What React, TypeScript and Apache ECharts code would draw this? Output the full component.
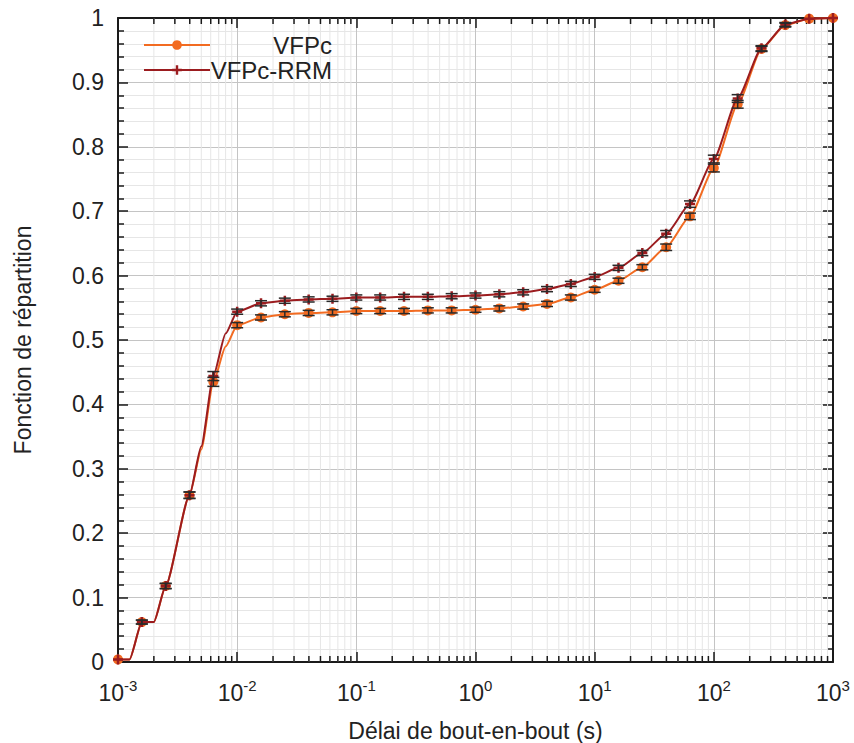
import React, { useEffect, useRef } from "react";
import * as echarts from "echarts";

// ---- Data ----
const X_MARK = [
  0.001, 0.001585, 0.002512, 0.003981, 0.00631,
  0.01, 0.01585, 0.02512, 0.03981, 0.0631,
  0.1, 0.1585, 0.2512, 0.3981, 0.631,
  1, 1.585, 2.512, 3.981, 6.31,
  10, 15.85, 25.12, 39.81, 63.1,
  100, 158.5, 251.2, 398.1, 631, 1000,
];
const VFPC = [
  0.004, 0.062, 0.118, 0.259, 0.435,
  0.523, 0.535, 0.54, 0.542, 0.543,
  0.545, 0.545, 0.545, 0.546, 0.546,
  0.547, 0.549, 0.552, 0.556, 0.566,
  0.578, 0.592, 0.613, 0.644, 0.692,
  0.767, 0.866, 0.952, 0.989, 0.999, 1.0,
];
const RRM = [
  0.004, 0.062, 0.118, 0.259, 0.444,
  0.544, 0.557, 0.561, 0.563, 0.564,
  0.566, 0.566, 0.567, 0.567, 0.568,
  0.569, 0.571, 0.574, 0.579, 0.587,
  0.598, 0.612, 0.635, 0.665, 0.711,
  0.781, 0.875, 0.953, 0.99, 0.999, 1.0,
];
const ERR_VFPC = [
  0, 0.003, 0.004, 0.005, 0.007,
  0.004, 0.004, 0.004, 0.004, 0.004,
  0.004, 0.004, 0.004, 0.004, 0.004,
  0.004, 0.004, 0.004, 0.004, 0.004,
  0.004, 0.004, 0.004, 0.005, 0.005,
  0.006, 0.006, 0.004, 0.003, 0, 0,
];
const ERR_RRM = [
  0, 0.003, 0.004, 0.005, 0.007,
  0.004, 0.004, 0.004, 0.004, 0.004,
  0.004, 0.004, 0.004, 0.004, 0.004,
  0.004, 0.004, 0.004, 0.004, 0.004,
  0.004, 0.004, 0.004, 0.005, 0.005,
  0.006, 0.006, 0.004, 0.003, 0, 0,
];
// extra knots of the empirical curves (no markers)
const X_KNOT = [0.00125, 0.002, 0.005, 0.008];
const VFPC_KNOT = [0.004, 0.062, 0.33, 0.49];
const RRM_KNOT = [0.004, 0.062, 0.335, 0.51];

const DECADES = [-3, -2, -1, 0, 1, 2];
const MINOR_MULT = [2, 3, 4, 5, 6, 7, 8, 9];

const FONT = "Liberation Sans, Arial, sans-serif";
const ORANGE = "#F26B21";
const DARKRED = "#9B1C1F";
const TEXT = "#222";
const PLUS = "path://M3,0h2v3h3v2h-3v3h-2v-3h-3v-2h3z";

function buildLine(xm: number[], ym: number[], xk: number[], yk: number[]) {
  const pts: any[] = [];
  xm.forEach((x, i) => pts.push({ value: [x, ym[i]] }));
  xk.forEach((x, i) => pts.push({ value: [x, yk[i]], symbol: "none" }));
  pts.sort((a, b) => a.value[0] - b.value[0]);
  return pts;
}

export default function App() {
  const ref = useRef<HTMLDivElement>(null);
  useEffect(() => {
    if (!ref.current) return;
    const chart = echarts.init(ref.current, null, { renderer: "svg" });

    const minorX: number[][] = [];
    DECADES.forEach((d) => MINOR_MULT.forEach((m) => minorX.push([m * Math.pow(10, d), 0])));

    const errData: number[][] = [];
    X_MARK.forEach((x, i) => {
      errData.push([x, VFPC[i], ERR_VFPC[i]]);
      errData.push([x, RRM[i], ERR_RRM[i]]);
    });

    const axisLineStyle = { color: "#1a1a1a", width: 2 };
    const tick = { show: true, inside: true, length: 10, lineStyle: { color: "#1a1a1a", width: 1.5 } };

    chart.setOption({
      animation: false,
      grid: { left: 118, right: 21, top: 18, bottom: 81, containLabel: false, outerBoundsMode: "none" },
      legend: {
        data: ["VFPc", "VFPc-RRM"],
        orient: "vertical",
        left: 138,
        top: 28,
        itemWidth: 66,
        itemHeight: 12,
        itemGap: 1,
        formatter: (n: string) => `{t|${n}}`,
        textStyle: {
          rich: {
            t: { width: 117, align: "right", fontSize: 24, fontFamily: FONT, color: TEXT },
          },
        },
      },
      xAxis: [
        {
          type: "log",
          logBase: 10,
          min: 0.001,
          max: 1000,
          interval: 1,
          name: "Délai de bout-en-bout (s)",
          nameLocation: "middle",
          nameGap: 57,
          nameTextStyle: { fontSize: 23, fontFamily: FONT, color: TEXT },
          axisLine: { show: true, onZero: false, lineStyle: axisLineStyle },
          axisTick: tick,
          axisLabel: {
            margin: 16,
            formatter: (v: number) => `{b|10}{s|${Math.round(Math.log10(v))}}`,
            rich: {
              b: { fontSize: 23, fontFamily: FONT, color: TEXT },
              s: { fontSize: 15, fontFamily: FONT, color: TEXT, padding: [0, 0, 14, 0] },
            },
          },
          splitLine: { show: true, lineStyle: { color: "#c4c4c4", width: 1 } },
        },
        {
          type: "log",
          logBase: 10,
          min: 0.001,
          max: 1000,
          interval: 1,
          position: "top",
          axisLine: { show: true, onZero: false, lineStyle: axisLineStyle },
          axisTick: tick,
          axisLabel: { show: false },
          splitLine: { show: false },
        },
      ],
      yAxis: [
        {
          type: "value",
          min: 0,
          max: 1,
          interval: 0.1,
          name: "Fonction de répartition",
          nameLocation: "middle",
          nameGap: 84,
          nameTextStyle: { fontSize: 23, fontFamily: FONT, color: TEXT },
          axisLine: { show: true, onZero: false, lineStyle: axisLineStyle },
          axisTick: tick,
          minorTick: { show: true, splitNumber: 5, length: 6, lineStyle: { color: "#1a1a1a", width: 1.5 } },
          axisLabel: { margin: 14, fontSize: 23, fontFamily: FONT, color: TEXT },
          splitLine: { show: true, lineStyle: { color: "#c4c4c4", width: 1 } },
          minorSplitLine: { show: true, lineStyle: { color: "#e6e6e6", width: 1 } },
        },
        {
          type: "value",
          min: 0,
          max: 1,
          interval: 0.1,
          position: "right",
          axisLine: { show: true, onZero: false, lineStyle: axisLineStyle },
          axisTick: tick,
          minorTick: { show: true, splitNumber: 5, length: 6, lineStyle: { color: "#1a1a1a", width: 1.5 } },
          axisLabel: { show: false },
          splitLine: { show: false },
        },
      ],
      series: [
        {
          type: "custom",
          name: "minorGrid",
          z: 1,
          silent: true,
          clip: false,
          encode: { x: 0, y: 1 },
          data: minorX,
          renderItem: (params: any, api: any) => {
            const x = api.value(0);
            const p0 = api.coord([x, 0]);
            const p1 = api.coord([x, 1]);
            return {
              type: "group",
              children: [
                { type: "line", shape: { x1: p0[0], y1: p0[1], x2: p1[0], y2: p1[1] }, style: { stroke: "#e6e6e6", lineWidth: 1 } },
                { type: "line", shape: { x1: p0[0], y1: p0[1], x2: p0[0], y2: p0[1] - 6 }, style: { stroke: "#1a1a1a", lineWidth: 1.5 } },
                { type: "line", shape: { x1: p1[0], y1: p1[1], x2: p1[0], y2: p1[1] + 6 }, style: { stroke: "#1a1a1a", lineWidth: 1.5 } },
              ],
            };
          },
        },
        {
          type: "line",
          name: "VFPc",
          z: 3,
          data: buildLine(X_MARK, VFPC, X_KNOT, VFPC_KNOT),
          smooth: 0.2,
          smoothMonotone: "x",
          symbol: "circle",
          symbolSize: 10,
          showAllSymbol: true,
          color: ORANGE,
          lineStyle: { color: ORANGE, width: 2 },
          itemStyle: { color: ORANGE },
        },
        {
          type: "line",
          name: "VFPc-RRM",
          z: 4,
          data: buildLine(X_MARK, RRM, X_KNOT, RRM_KNOT),
          smooth: 0.2,
          smoothMonotone: "x",
          symbol: PLUS,
          symbolSize: 10,
          showAllSymbol: true,
          color: DARKRED,
          lineStyle: { color: DARKRED, width: 2 },
          itemStyle: { color: DARKRED },
        },
        {
          type: "custom",
          name: "errorbars",
          z: 5,
          silent: true,
          encode: { x: 0, y: 1 },
          data: errData,
          renderItem: (params: any, api: any) => {
            const x = api.value(0);
            const y = api.value(1);
            const e = api.value(2);
            if (!(e > 0)) return null;
            const t = api.coord([x, y + e]);
            const b = api.coord([x, y - e]);
            const h = 6;
            const st = { stroke: "#2a2a2a", lineWidth: 1.5 };
            return {
              type: "group",
              children: [
                { type: "line", shape: { x1: t[0], y1: t[1], x2: b[0], y2: b[1] }, style: st },
                { type: "line", shape: { x1: t[0] - h, y1: t[1], x2: t[0] + h, y2: t[1] }, style: st },
                { type: "line", shape: { x1: b[0] - h, y1: b[1], x2: b[0] + h, y2: b[1] }, style: st },
              ],
            };
          },
        },
      ],
    });
    return () => chart.dispose();
  }, []);
  return <div ref={ref} style={{ width: 854, height: 743, position: "absolute", left: 0, top: 0, background: "#fff" }} />;
}
